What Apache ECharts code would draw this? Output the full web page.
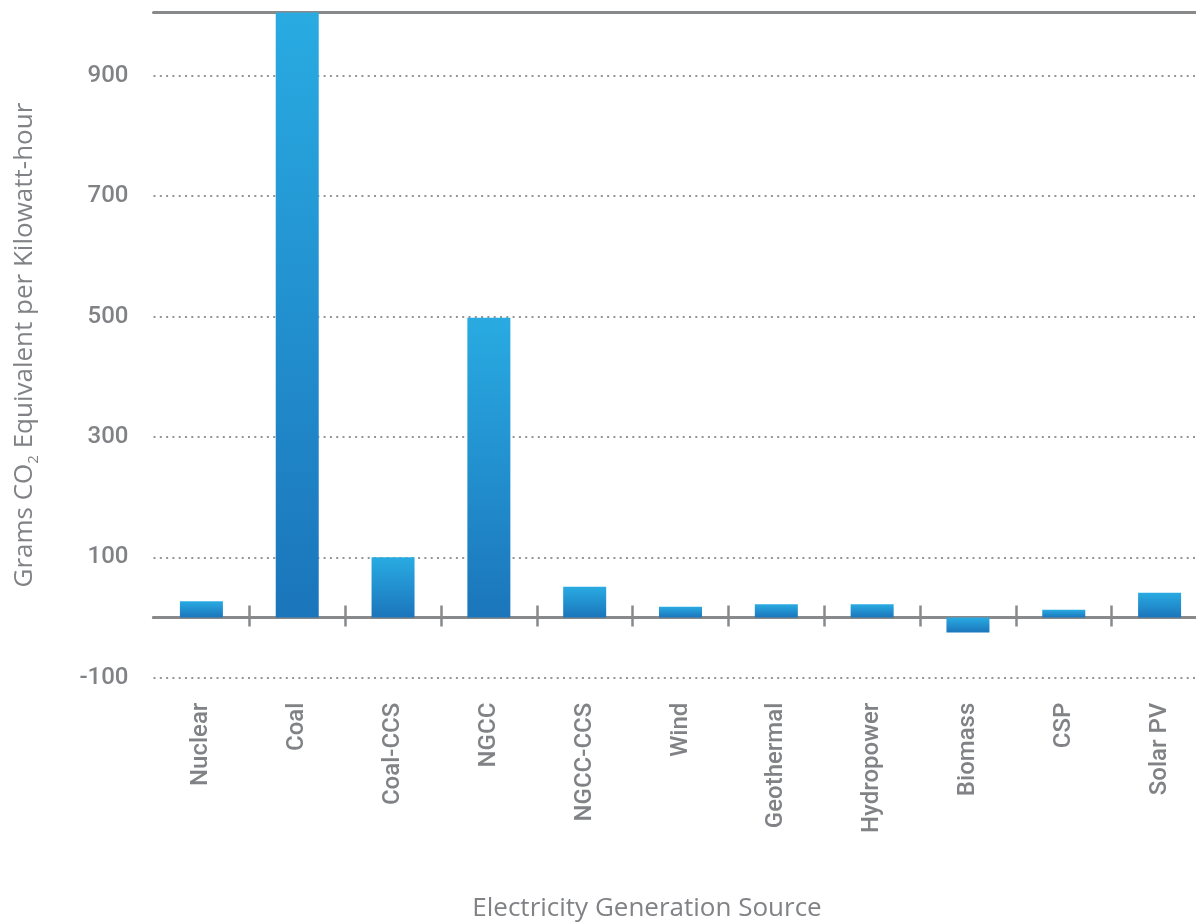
<!DOCTYPE html>
<html>
<head>
<meta charset="utf-8">
<script src="https://cdn.jsdelivr.net/npm/echarts@6/dist/echarts.min.js"></script>
<style>html,body{margin:0;padding:0;background:#fff;}#chart{width:1196px;height:922px;}</style>
</head>
<body>
<div id="chart"></div>
<script>
const categories = ['Nuclear','Coal','Coal-CCS','NGCC','NGCC-CCS','Wind','Geothermal','Hydropower','Biomass','CSP','Solar PV'];
const values = [27, 1005, 100, 498, 51, 18, 22, 22, -25, 13, 41];
const yMin = -100, yMax = 1005, yStep = 200;
const xTitle = 'Electricity Generation Source';
const yTitle = 'Grams CO{s|2} Equivalent per Kilowatt-hour';

const gray = '#808285';
const lineGray = '#88898b';
const font = 'Roboto, "Liberation Sans", sans-serif';
const titleFont = '"Open Sans", "Liberation Sans", sans-serif';
const gridBox = { left: 153.5, top: 12.5, right: -11.5, bottom: 244.3, containLabel: false, outerBoundsMode: 'none' };
const tickFilter = function (i) { return i > 0; };

const chart = echarts.init(document.getElementById('chart'));
chart.setOption({
  animation: false,
  backgroundColor: '#fff',
  grid: [Object.assign({}, gridBox), Object.assign({}, gridBox)],
  xAxis: [
    { gridIndex: 0, type: 'category', data: categories, position: 'bottom',
      axisLine: { show: true, onZero: true, lineStyle: { color: lineGray, width: 3 } },
      axisTick: { show: true, inside: true, length: 12, interval: tickFilter, lineStyle: { color: lineGray, width: 2.5 } },
      axisLabel: { show: false }, splitLine: { show: false } },
    { gridIndex: 0, type: 'category', data: categories, position: 'bottom',
      axisLine: { show: false, onZero: false }, axisTick: { show: false },
      axisLabel: { show: true, interval: 0, rotate: 90, margin: 25, color: gray, fontFamily: font, fontSize: 24, fontWeight: 500 },
      name: xTitle, nameLocation: 'middle', nameGap: 218,
      nameTextStyle: { color: gray, fontFamily: titleFont, fontSize: 26, fontWeight: 400, padding: [0, 67, 0, 0] } },
    { gridIndex: 0, type: 'category', data: categories, position: 'top',
      axisLine: { show: true, onZero: false, lineStyle: { color: lineGray, width: 3 } },
      axisTick: { show: false }, axisLabel: { show: false } },
    { gridIndex: 1, type: 'category', data: categories, position: 'bottom',
      axisLine: { show: true, onZero: true, lineStyle: { color: lineGray, width: 3 } },
      axisTick: { show: true, inside: false, length: 9, interval: tickFilter, lineStyle: { color: lineGray, width: 2.5 } },
      axisLabel: { show: false }, splitLine: { show: false } }
  ],
  yAxis: [
    { gridIndex: 0, type: 'value', min: yMin, max: yMax, interval: yStep,
      axisLine: { show: false }, axisTick: { show: false },
      axisLabel: { margin: 25, color: gray, fontFamily: font, fontSize: 24, fontWeight: 500, showMaxLabel: false },
      splitLine: { show: true, lineStyle: { color: '#939598', width: 2, type: [2, 4.3] } },
      name: yTitle, nameLocation: 'middle', nameGap: 112,
      nameTextStyle: { color: gray, fontFamily: titleFont, fontSize: 26, lineHeight: 34,
        rich: { s: { fontSize: 15, lineHeight: 15, verticalAlign: 'bottom', color: gray, fontFamily: titleFont } } } },
    { gridIndex: 1, type: 'value', min: yMin, max: yMax, interval: yStep, show: false,
      splitLine: { show: false } }
  ],
  series: [{
    type: 'bar', data: values, xAxisIndex: 0, yAxisIndex: 0, barWidth: 43,
    itemStyle: { color: new echarts.graphic.LinearGradient(0, 0, 0, 1, [
      { offset: 0, color: '#29abe2' }, { offset: 1, color: '#1b75bb' }
    ]) }
  }]
});
</script>
</body>
</html>
